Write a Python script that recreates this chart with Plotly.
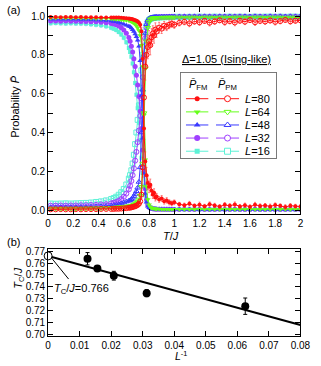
import plotly.graph_objects as go
import numpy as np

# ---------------- data: panel (a) ----------------
T = [0.02, 0.06, 0.10, 0.14, 0.18, 0.22, 0.26, 0.30, 0.34, 0.38, 0.42, 0.46, 0.50,
     0.52, 0.54, 0.56, 0.58, 0.60, 0.62, 0.64,
     0.65, 0.66, 0.67, 0.68, 0.69, 0.70, 0.71, 0.72, 0.73, 0.74, 0.75, 0.76, 0.77, 0.78, 0.79, 0.80, 0.81, 0.82, 0.83, 0.84, 0.85,
     0.86, 0.88, 0.90, 0.92, 0.94, 0.96, 0.98, 1.00,
     1.04, 1.08, 1.12, 1.16, 1.20, 1.24, 1.28, 1.32, 1.36, 1.40, 1.44, 1.48, 1.52, 1.56, 1.60, 1.64, 1.68, 1.72, 1.76, 1.80, 1.84, 1.88, 1.92, 1.96, 2.00]

FM16 = [0.963, 0.964, 0.963, 0.962, 0.963, 0.962, 0.961, 0.960, 0.958, 0.955, 0.952, 0.947, 0.940,
        0.935, 0.928, 0.918, 0.905, 0.888, 0.865, 0.835,
        0.815, 0.790, 0.755, 0.710, 0.655, 0.595, 0.525, 0.450, 0.360, 0.270, 0.190, 0.125, 0.075, 0.045, 0.028, 0.018, 0.013, 0.010, 0.009, 0.008, 0.007,
        0.006, 0.006, 0.005, 0.005, 0.005, 0.004, 0.004, 0.004,
        0.004, 0.003, 0.004, 0.004, 0.003, 0.004, 0.003, 0.004, 0.004, 0.003, 0.004, 0.003, 0.003, 0.004, 0.003, 0.004, 0.003, 0.003, 0.004, 0.003, 0.003, 0.004, 0.003, 0.003, 0.004]
PM16 = [0.034, 0.033, 0.034, 0.035, 0.034, 0.035, 0.036, 0.037, 0.039, 0.042, 0.045, 0.050, 0.057,
        0.062, 0.069, 0.079, 0.092, 0.109, 0.132, 0.162,
        0.180, 0.205, 0.240, 0.285, 0.340, 0.400, 0.465, 0.540, 0.630, 0.720, 0.800, 0.870, 0.920, 0.950, 0.970, 0.980, 0.985, 0.988, 0.990, 0.991, 0.992,
        0.993, 0.993, 0.994, 0.994, 0.995, 0.995, 0.995, 0.996,
        0.996, 0.995, 0.996, 0.996, 0.997, 0.996, 0.996, 0.997, 0.996, 0.996, 0.997, 0.996, 0.997, 0.996, 0.996, 0.997, 0.996, 0.997, 0.997, 0.996, 0.997, 0.996, 0.997, 0.997, 0.996]

FM32 = [0.974, 0.974, 0.973, 0.974, 0.973, 0.973, 0.972, 0.972, 0.971, 0.970, 0.968, 0.966, 0.962,
        0.959, 0.955, 0.949, 0.940, 0.928, 0.912, 0.890,
        0.870, 0.845, 0.815, 0.780, 0.740, 0.695, 0.645, 0.585, 0.510, 0.420, 0.310, 0.200, 0.110, 0.055, 0.028, 0.016, 0.011, 0.009, 0.007, 0.006, 0.006,
        0.005, 0.005, 0.005, 0.004, 0.004, 0.004, 0.004, 0.003,
        0.003, 0.004, 0.003, 0.003, 0.004, 0.003, 0.003, 0.003, 0.004, 0.003, 0.003, 0.004, 0.003, 0.003, 0.003, 0.004, 0.003, 0.003, 0.004, 0.003, 0.003, 0.003, 0.004, 0.003, 0.003]
PM32 = [0.023, 0.023, 0.024, 0.023, 0.024, 0.024, 0.025, 0.025, 0.026, 0.027, 0.029, 0.031, 0.035,
        0.038, 0.042, 0.048, 0.057, 0.069, 0.085, 0.107,
        0.125, 0.150, 0.180, 0.215, 0.255, 0.300, 0.350, 0.410, 0.485, 0.575, 0.685, 0.795, 0.885, 0.940, 0.968, 0.980, 0.986, 0.989, 0.991, 0.992, 0.993,
        0.994, 0.994, 0.995, 0.995, 0.995, 0.996, 0.996, 0.996,
        0.996, 0.997, 0.996, 0.997, 0.996, 0.997, 0.997, 0.996, 0.997, 0.997, 0.996, 0.997, 0.997, 0.997, 0.996, 0.997, 0.997, 0.996, 0.997, 0.997, 0.997, 0.996, 0.997, 0.997, 0.997]

FM48 = [0.984, 0.984, 0.983, 0.984, 0.983, 0.983, 0.982, 0.982, 0.981, 0.980, 0.979, 0.977, 0.975,
        0.972, 0.970, 0.967, 0.963, 0.958, 0.952, 0.948,
        0.945, 0.938, 0.930, 0.920, 0.908, 0.893, 0.875, 0.845, 0.770, 0.590, 0.370, 0.190, 0.085, 0.040, 0.020, 0.012, 0.009, 0.007, 0.006, 0.005, 0.005,
        0.004, 0.004, 0.004, 0.003, 0.003, 0.003, 0.003, 0.003,
        0.003, 0.002, 0.003, 0.003, 0.002, 0.003, 0.002, 0.003, 0.003, 0.002, 0.003, 0.002, 0.003, 0.003, 0.002, 0.003, 0.002, 0.003, 0.002, 0.003, 0.003, 0.002, 0.003, 0.002, 0.003]
PM48 = [0.014, 0.014, 0.015, 0.014, 0.015, 0.015, 0.016, 0.016, 0.017, 0.018, 0.019, 0.021, 0.023,
        0.025, 0.027, 0.030, 0.034, 0.039, 0.044, 0.048,
        0.050, 0.056, 0.063, 0.072, 0.083, 0.097, 0.115, 0.145, 0.220, 0.400, 0.620, 0.800, 0.910, 0.958, 0.978, 0.986, 0.990, 0.992, 0.993, 0.994, 0.994,
        0.995, 0.995, 0.996, 0.996, 0.996, 0.997, 0.997, 0.997,
        0.997, 0.997, 0.998, 0.997, 0.997, 0.998, 0.997, 0.997, 0.998, 0.997, 0.998, 0.997, 0.997, 0.998, 0.997, 0.998, 0.997, 0.997, 0.998, 0.997, 0.998, 0.997, 0.998, 0.997, 0.998]

FM64 = [0.990, 0.990, 0.991, 0.990, 0.990, 0.990, 0.990, 0.989, 0.989, 0.988, 0.988, 0.987, 0.986,
        0.985, 0.984, 0.983, 0.981, 0.980, 0.978, 0.977,
        0.975, 0.972, 0.968, 0.964, 0.958, 0.950, 0.940, 0.925, 0.900, 0.850, 0.740, 0.490, 0.260, 0.120, 0.055, 0.027, 0.016, 0.011, 0.009, 0.008, 0.007,
        0.006, 0.006, 0.005, 0.005, 0.005, 0.004, 0.004, 0.004,
        0.004, 0.005, 0.004, 0.004, 0.005, 0.004, 0.004, 0.005, 0.004, 0.004, 0.005, 0.004, 0.004, 0.004, 0.005, 0.004, 0.004, 0.005, 0.004, 0.004, 0.005, 0.004, 0.004, 0.004, 0.005]
PM64 = [0.008, 0.008, 0.007, 0.008, 0.008, 0.008, 0.008, 0.009, 0.009, 0.010, 0.010, 0.011, 0.012,
        0.013, 0.014, 0.015, 0.016, 0.017, 0.019, 0.020,
        0.020, 0.022, 0.025, 0.028, 0.032, 0.037, 0.044, 0.055, 0.075, 0.120, 0.240, 0.500, 0.730, 0.870, 0.940, 0.970, 0.982, 0.987, 0.989, 0.990, 0.990,
        0.991, 0.991, 0.992, 0.992, 0.992, 0.993, 0.992, 0.993,
        0.993, 0.992, 0.993, 0.993, 0.992, 0.993, 0.993, 0.992, 0.993, 0.993, 0.992, 0.993, 0.993, 0.993, 0.992, 0.993, 0.993, 0.992, 0.993, 0.993, 0.993, 0.992, 0.993, 0.993, 0.992]

FM80 = [0.995, 0.995, 0.994, 0.995, 0.995, 0.994, 0.995, 0.994, 0.994, 0.994, 0.993, 0.993, 0.993,
        0.993, 0.992, 0.992, 0.991, 0.990, 0.989, 0.987,
        0.986, 0.985, 0.983, 0.981, 0.979, 0.976, 0.972, 0.966, 0.955, 0.920, 0.780, 0.420, 0.250, 0.180, 0.140, 0.120, 0.130, 0.100, 0.080, 0.090, 0.065,
        0.070, 0.055, 0.060, 0.045, 0.050, 0.040, 0.035, 0.040,
        0.030, 0.025, 0.033, 0.022, 0.028, 0.020, 0.030, 0.024, 0.018, 0.027, 0.022, 0.029, 0.019, 0.025, 0.017, 0.028, 0.021, 0.024, 0.019, 0.026, 0.022, 0.016, 0.023, 0.020, 0.018]
PM80 = [0.004, 0.004, 0.005, 0.004, 0.004, 0.005, 0.004, 0.005, 0.005, 0.005, 0.006, 0.006, 0.006,
        0.006, 0.007, 0.007, 0.008, 0.009, 0.010, 0.012,
        0.013, 0.014, 0.016, 0.018, 0.020, 0.023, 0.027, 0.033, 0.045, 0.080, 0.220, 0.580, 0.740, 0.800, 0.840, 0.870, 0.850, 0.890, 0.910, 0.900, 0.930,
        0.920, 0.940, 0.935, 0.950, 0.945, 0.955, 0.960, 0.955,
        0.965, 0.970, 0.962, 0.972, 0.968, 0.975, 0.966, 0.972, 0.978, 0.969, 0.974, 0.967, 0.976, 0.971, 0.979, 0.968, 0.975, 0.972, 0.977, 0.970, 0.974, 0.980, 0.973, 0.976, 0.978]

ERR_FM80 = [0.003, 0.003, 0.003, 0.003, 0.003, 0.003, 0.003, 0.003, 0.003, 0.003, 0.003, 0.003, 0.003,
            0.003, 0.003, 0.004, 0.004, 0.004, 0.004, 0.004,
            0.004, 0.004, 0.005, 0.005, 0.005, 0.006, 0.007, 0.008, 0.010, 0.020, 0.040, 0.060, 0.050, 0.040, 0.035, 0.030, 0.030, 0.025, 0.020, 0.020, 0.018,
            0.016, 0.015, 0.015, 0.014, 0.014, 0.013, 0.012, 0.012,
            0.010, 0.011, 0.012, 0.010, 0.013, 0.010, 0.012, 0.011, 0.010, 0.012, 0.011, 0.013, 0.010, 0.011, 0.010, 0.012, 0.011, 0.010, 0.012, 0.011, 0.010, 0.012, 0.011, 0.010, 0.011]
ERR_PM80 = [0.003, 0.003, 0.003, 0.003, 0.003, 0.003, 0.003, 0.003, 0.003, 0.003, 0.003, 0.003, 0.003,
            0.003, 0.003, 0.004, 0.004, 0.004, 0.004, 0.005,
            0.005, 0.005, 0.005, 0.006, 0.006, 0.007, 0.008, 0.010, 0.012, 0.020, 0.050, 0.070, 0.070, 0.060, 0.060, 0.055, 0.050, 0.045, 0.040, 0.040, 0.035,
            0.030, 0.028, 0.025, 0.022, 0.020, 0.020, 0.018, 0.018,
            0.016, 0.015, 0.017, 0.014, 0.016, 0.013, 0.017, 0.015, 0.012, 0.016, 0.014, 0.017, 0.013, 0.015, 0.012, 0.016, 0.014, 0.015, 0.013, 0.016, 0.014, 0.012, 0.015, 0.013, 0.012]
ERR_CONST = {16: 0.010, 32: 0.007, 48: 0.006, 64: 0.004}

SIZES = [16, 32, 48, 64, 80]          # drawing order (L=80 on top)
FM = {16: FM16, 32: FM32, 48: FM48, 64: FM64, 80: FM80}
PM = {16: PM16, 32: PM32, 48: PM48, 64: PM64, 80: PM80}

for arr in list(FM.values()) + list(PM.values()) + [ERR_FM80, ERR_PM80]:
    assert len(arr) == len(T), len(arr)

# ---------------- data: panel (b) ----------------
L_SIZES = [80, 64, 48, 32, 16]
TC = [0.7636, 0.7553, 0.7493, 0.7346, 0.7236]
TC_ERR = [0.0052, 0.0020, 0.0037, 0.0030, 0.0069]
TC_INF = 0.766
FIT_INTERCEPT = 0.766
FIT_SLOPE = -0.7275

# ---------------- styles ----------------
W, H = 321, 366
FONT = "Liberation Sans, Arial, sans-serif"
STYLE = {
    80: dict(color="#ff1010", err="rgba(255,70,70,0.65)", fm="circle", fms=4, pm="circle-open", pms=5),
    64: dict(color="#66ff1a", err="rgba(120,255,60,0.6)", fm="triangle-down", fms=5, pm="triangle-down-open", pms=5),
    48: dict(color="#3a3aff", err="rgba(110,110,255,0.5)", fm="triangle-up", fms=5, pm="triangle-up-open", pms=5),
    32: dict(color="#a040ff", err="rgba(180,120,255,0.5)", fm="circle", fms=5, pm="circle-open", pms=5),
    16: dict(color="#5cf2d6", err="rgba(150,170,255,0.55)", fm="square", fms=4, pm="square-open", pms=5),
}


def fx(p):
    return p / W


def fy(p):
    return 1 - p / H


def err_spec(L, arr):
    if L == 80:
        return dict(type="data", array=arr, color=STYLE[L]["err"], thickness=1, width=1)
    return dict(type="constant", value=ERR_CONST[L], color=STYLE[L]["err"], thickness=1, width=1)


fig = go.Figure()

for L in SIZES:
    s = STYLE[L]
    fig.add_trace(go.Scatter(
        x=T, y=FM[L], mode="lines+markers", xaxis="x", yaxis="y",
        line=dict(color=s["color"], width=1),
        marker=dict(symbol=s["fm"], size=s["fms"], color=s["color"], line=dict(width=0)),
        error_y=err_spec(L, ERR_FM80),
        showlegend=False, hoverinfo="skip"))
    fig.add_trace(go.Scatter(
        x=T, y=PM[L], mode="lines+markers", xaxis="x", yaxis="y",
        line=dict(color=s["color"], width=1),
        marker=dict(symbol=s["pm"], size=s["pms"], color=s["color"], line=dict(width=1, color=s["color"])),
        error_y=err_spec(L, ERR_PM80),
        showlegend=False, hoverinfo="skip"))

# ---------------- custom legend (overlay axes x3/y3) ----------------
LEG_X0, LEG_X1, LEG_Y0, LEG_Y1 = 185, 285, 70.7, 158   # pixel box
ROW_PX = [97.3, 110.7, 124.0, 137.3, 150.7]
LEG_ORDER = [80, 64, 48, 32, 16]


def lx(p):
    return (p - LEG_X0) / (LEG_X1 - LEG_X0)


def ly(p):
    return (LEG_Y1 - p) / (LEG_Y1 - LEG_Y0)


for L, rp in zip(LEG_ORDER, ROW_PX):
    s = STYLE[L]
    yy = ly(rp)
    for (a, b, sym, size, filled) in [(190.7, 214, s["fm"], s["fms"], True),
                                      (222, 246, s["pm"], s["pms"], False)]:
        fig.add_trace(go.Scatter(
            x=[lx(a), lx(b)], y=[yy, yy], mode="lines", xaxis="x3", yaxis="y3",
            line=dict(color=s["color"], width=1), showlegend=False, hoverinfo="skip"))
        fig.add_trace(go.Scatter(
            x=[lx((a + b) / 2)], y=[yy], mode="markers", xaxis="x3", yaxis="y3",
            marker=dict(symbol=sym if filled else sym.replace("-open", ""), size=size + 1,
                        color=s["color"] if filled else "white",
                        line=dict(width=0 if filled else 1, color=s["color"])),
            showlegend=False, hoverinfo="skip"))

# ---------------- panel (b) ----------------
xfit = np.array([0.0, 0.08])
fig.add_trace(go.Scatter(
    x=xfit, y=FIT_INTERCEPT + FIT_SLOPE * xfit, mode="lines", xaxis="x2", yaxis="y2",
    line=dict(color="black", width=2), showlegend=False, hoverinfo="skip"))
fig.add_trace(go.Scatter(
    x=[1.0 / L for L in L_SIZES], y=TC, mode="markers", xaxis="x2", yaxis="y2",
    marker=dict(symbol="circle", size=8, color="black"),
    error_y=dict(type="data", array=TC_ERR, color="black", thickness=1, width=2),
    showlegend=False, hoverinfo="skip"))
fig.add_trace(go.Scatter(
    x=[0.0], y=[TC_INF], mode="markers", xaxis="x2", yaxis="y2", cliponaxis=False,
    marker=dict(symbol="circle", size=8, color="white", line=dict(width=1, color="black")),
    showlegend=False, hoverinfo="skip"))

axis_common = dict(showline=True, linecolor="black", linewidth=1, mirror="ticks",
                   ticks="inside", ticklen=5, tickwidth=1, tickcolor="black",
                   showgrid=False, zeroline=False,
                   tickfont=dict(family=FONT, size=10, color="black"))

xdom = [fx(47), fx(310)]
fig.update_layout(
    width=W, height=H, margin=dict(l=0, r=0, t=0, b=0),
    paper_bgcolor="white", plot_bgcolor="white",
    font=dict(family=FONT, size=11, color="black"),
    xaxis=dict(domain=xdom, anchor="y", range=[0, 2], dtick=0.2, tick0=0, **axis_common),
    yaxis=dict(domain=[fy(214.7), fy(4)], anchor="x", range=[-0.021, 1.047], dtick=0.2, tick0=0,
               tickformat=".1f",
               minor=dict(dtick=0.1, ticks="inside", ticklen=5, tickcolor="black", tickwidth=1),
               **axis_common),
    xaxis2=dict(domain=xdom, anchor="y2", range=[0, 0.08], dtick=0.01, tick0=0, **axis_common),
    yaxis2=dict(domain=[fy(339), fy(250)], anchor="x2", range=[0.6981, 0.7719], dtick=0.01, tick0=0.70,
                tickformat=".2f", **axis_common),
    xaxis3=dict(domain=[fx(LEG_X0), fx(LEG_X1)], anchor="y3", range=[0, 1], visible=False, fixedrange=True),
    yaxis3=dict(domain=[fy(LEG_Y1), fy(LEG_Y0)], anchor="x3", range=[0, 1], visible=False, fixedrange=True),
)

fig.add_shape(type="rect", xref="paper", yref="paper",
              x0=fx(LEG_X0), x1=fx(LEG_X1), y0=fy(LEG_Y1), y1=fy(LEG_Y0),
              line=dict(color="black", width=1), fillcolor="white", layer="below")

# pointer line for T_C/J annotation
fig.add_shape(type="line", xref="x2", yref="y2", x0=0.0011, y0=0.7642, x1=0.0065, y1=0.7465,
              line=dict(color="black", width=1))

PB = "P\u0304"


def ann(text, x, y, xanchor="center", yanchor="middle", size=11, angle=0, xref="paper", yref="paper"):
    fig.add_annotation(text=text, x=x, y=y, xref=xref, yref=yref, xanchor=xanchor, yanchor=yanchor,
                       showarrow=False, textangle=angle, borderpad=0,
                       font=dict(family=FONT, size=size, color="black"))


ann("(a)", fx(3), fy(7), xanchor="left", size=11)
ann("(b)", fx(3), fy(243), xanchor="left", size=11)
ann("Probability <i>" + PB + "</i>", fx(13), fy(105), angle=-90, size=11)
ann("<i>T</i>/<i>J</i>", fx(175), fy(237), size=11)
ann("<i>T</i><sub>C</sub>/<i>J</i>", fx(17), fy(280), angle=-90, size=11)
ann("<i>L</i><sup>-1</sup>", fx(185), fy(366), yanchor="bottom", size=10.5)
ann("<u>\u0394=1.05 (Ising-like)</u>", fx(185), fy(56.7), xanchor="left", size=11)
ann("<i>" + PB + "</i><sub>FM</sub>", fx(203), fy(83), size=11)
ann("<i>" + PB + "</i><sub>PM</sub>", fx(234), fy(83), size=11)
for L, rp in zip(LEG_ORDER, ROW_PX):
    ann("<i>L</i>=%d" % L, fx(251), fy(rp), xanchor="left", size=11)
ann("<i>T</i><sub>C</sub>/<i>J</i>=0.766", 0.0014, 0.7378, xanchor="left", size=11, xref="x2", yref="y2")

fig.write_html("out.html", config={"displayModeBar": False},
               post_script="document.body.style.margin='0px';document.body.style.padding='0px';")
